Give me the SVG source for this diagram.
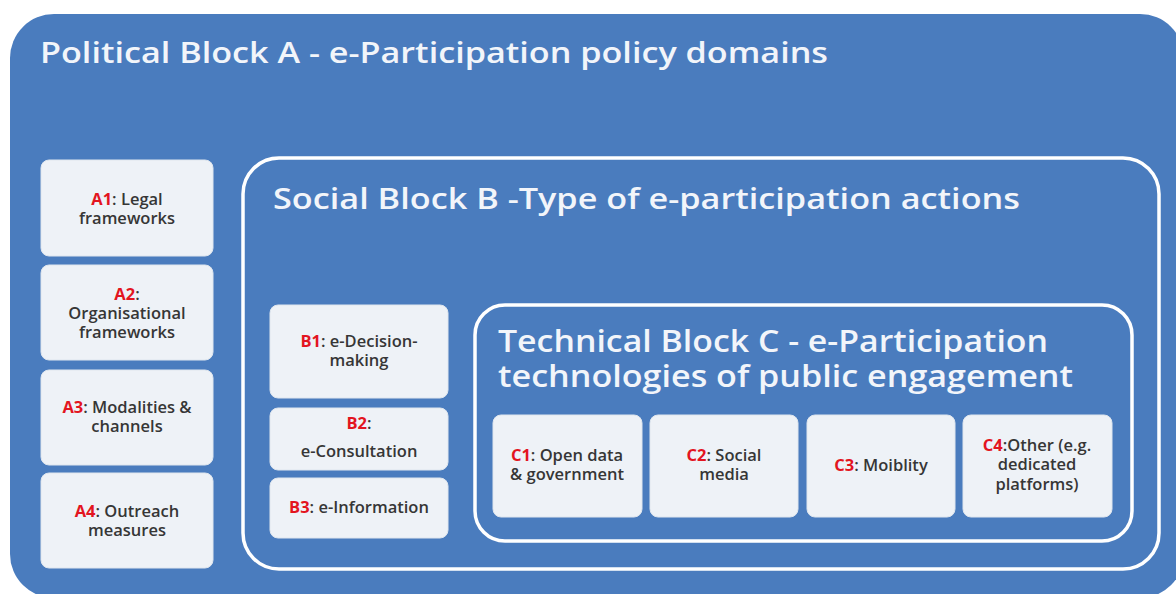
<svg xmlns="http://www.w3.org/2000/svg" width="1176" height="594" viewBox="0 0 1176 594">
  <style>
    .block { fill: #4a7cbe; }
    .frame { fill: none; stroke: #ffffff; stroke-width: 3.5; }
    .item { fill: #eef2f7; stroke: #dfe6ee; stroke-width: 1; }
    .title { font-family: "Open Sans", "DejaVu Sans", sans-serif; font-weight: 600; fill: #f2f5fa; }
    .lbl { font-family: "Open Sans", "DejaVu Sans", sans-serif; font-size: 16.5px; font-weight: 600; fill: #363636; text-anchor: middle; }
    .key { fill: #e3151f; font-weight: 700; }
  </style>
  <rect width="1176" height="594" fill="#ffffff"/>

  <!-- Political block A -->
  <g id="block-a">
    <rect class="block" x="10" y="14" width="1174" height="584" rx="44"/>
    <text class="title" x="40" y="63" font-size="28" textLength="788" lengthAdjust="spacingAndGlyphs">Political Block A - e-Participation policy domains</text>
  </g>

  <!-- Social block B -->
  <g id="block-b">
    <rect class="frame" x="243" y="158" width="916" height="411" rx="36"/>
    <text class="title" x="273" y="209" font-size="29" textLength="747" lengthAdjust="spacingAndGlyphs">Social Block B -Type of e-participation actions</text>
  </g>

  <!-- Technical block C -->
  <g id="block-c">
    <rect class="frame" x="475" y="305" width="657" height="236" rx="30"/>
    <text class="title" x="498" y="352" font-size="30" textLength="550" lengthAdjust="spacingAndGlyphs">Technical Block C - e-Participation</text>
    <text class="title" x="498" y="387" font-size="30" textLength="575" lengthAdjust="spacingAndGlyphs">technologies of public engagement</text>
  </g>

  <!-- A items -->
  <g id="a1">
    <rect class="item" x="41" y="160" width="172" height="96" rx="8"/>
    <text class="lbl" x="127" y="205"><tspan class="key">A1</tspan>: Legal</text>
    <text class="lbl" x="127" y="224">frameworks</text>
  </g>
  <g id="a2">
    <rect class="item" x="41" y="265" width="172" height="95" rx="8"/>
    <text class="lbl" x="127" y="300"><tspan class="key">A2</tspan>:</text>
    <text class="lbl" x="127" y="319">Organisational</text>
    <text class="lbl" x="127" y="338">frameworks</text>
  </g>
  <g id="a3">
    <rect class="item" x="41" y="370" width="172" height="95" rx="8"/>
    <text class="lbl" x="127" y="413"><tspan class="key">A3</tspan>: Modalities &amp;</text>
    <text class="lbl" x="127" y="432">channels</text>
  </g>
  <g id="a4">
    <rect class="item" x="41" y="473" width="172" height="95" rx="8"/>
    <text class="lbl" x="127" y="517"><tspan class="key">A4</tspan>: Outreach</text>
    <text class="lbl" x="127" y="536">measures</text>
  </g>

  <!-- B items -->
  <g id="b1">
    <rect class="item" x="270" y="305" width="178" height="93" rx="8"/>
    <text class="lbl" x="359" y="347"><tspan class="key">B1</tspan>: e-Decision-</text>
    <text class="lbl" x="359" y="366">making</text>
  </g>
  <g id="b2">
    <rect class="item" x="270" y="408" width="178" height="62" rx="8"/>
    <text class="lbl" x="359" y="429"><tspan class="key">B2</tspan>:</text>
    <text class="lbl" x="359" y="457">e-Consultation</text>
  </g>
  <g id="b3">
    <rect class="item" x="270" y="478" width="178" height="60" rx="8"/>
    <text class="lbl" x="359" y="513"><tspan class="key">B3</tspan>: e-Information</text>
  </g>

  <!-- C items -->
  <g id="c1">
    <rect class="item" x="493" y="415" width="149" height="102" rx="8"/>
    <text class="lbl" x="567" y="461"><tspan class="key">C1</tspan>: Open data</text>
    <text class="lbl" x="567" y="480">&amp; government</text>
  </g>
  <g id="c2">
    <rect class="item" x="650" y="415" width="148" height="102" rx="8"/>
    <text class="lbl" x="724" y="461"><tspan class="key">C2</tspan>: Social</text>
    <text class="lbl" x="724" y="480">media</text>
  </g>
  <g id="c3">
    <rect class="item" x="807" y="415" width="148" height="102" rx="8"/>
    <text class="lbl" x="881" y="471"><tspan class="key">C3</tspan>: Moiblity</text>
  </g>
  <g id="c4">
    <rect class="item" x="963" y="415" width="149" height="102" rx="8"/>
    <text class="lbl" x="1037" y="451"><tspan class="key">C4</tspan>:Other (e.g.</text>
    <text class="lbl" x="1037" y="470">dedicated</text>
    <text class="lbl" x="1037" y="490">platforms)</text>
  </g>

  <!-- no connectors in this figure -->
  <g id="connectors"/>
</svg>
